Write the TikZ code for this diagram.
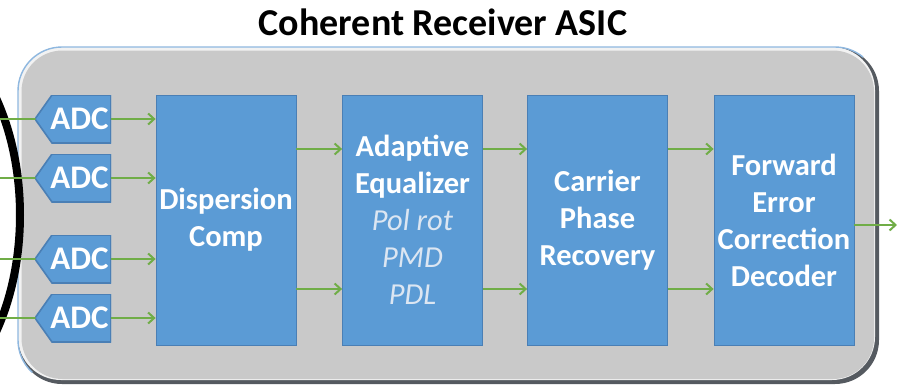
\documentclass[tikz,border=0pt]{standalone}
\usepackage{fontspec}
\setmainfont{Carlito}
\usetikzlibrary{arrows.meta}
\definecolor{boxblue}{HTML}{5B9BD5}
\definecolor{boxedge}{HTML}{4A7FB5}
\definecolor{arrgreen}{HTML}{70AD47}
\definecolor{panel}{HTML}{C9C9C9}
\definecolor{panedge}{HTML}{8FB8E0}
\definecolor{shadowgray}{HTML}{555A60}
\definecolor{highlight}{HTML}{F2F2F2}
\definecolor{italtxt}{HTML}{DCE6F2}
\newcommand\subtxt[1]{{\mdseries\itshape\color{italtxt}#1}}
\tikzset{
  stage/.style={rectangle,fill=boxblue,draw=boxedge,line width=0.8pt,minimum width=140pt,minimum height=250pt,inner sep=0pt,align=center,text=white,font=\fontsize{30.5}{37}\selectfont\bfseries},
  adcbox/.style={rectangle,minimum width=76pt,minimum height=48pt,inner sep=0pt,text=white,font=\fontsize{33}{33}\selectfont\bfseries,
    path picture={\fill[boxblue,draw=boxedge,line width=1.6pt]
      (path picture bounding box.north east) -- (path picture bounding box.south east)
      -- ([xshift=17pt]path picture bounding box.south west) -- (path picture bounding box.west)
      -- ([xshift=17pt]path picture bounding box.north west) -- cycle;}},
  flow/.style={draw=arrgreen,line width=2pt,-{Straight Barb[length=6pt,width=11pt,line width=2pt]}},
  feed/.style={draw=arrgreen,line width=2pt,line cap=round}
}
\begin{document}
\begin{tikzpicture}[x=1pt,y=-1pt]
\path[use as bounding box,fill=white] (0,0) rectangle (897,386);
\begin{scope}
\clip (0,0) rectangle (897,386);
% panel with bevel
\fill[shadowgray,rounded corners=44pt] (18,47) rectangle (879,384);
\fill[highlight,rounded corners=43pt] (18,47) rectangle (875,380);
\fill[panel,rounded corners=41pt] (21.5,50.5) rectangle (874,379);
\begin{scope}
\clip (0,0) -- (897,0) -- (860,62) -- (62,62) -- (62,360) -- (0,386) -- cycle;
\draw[panedge,line width=1.4pt,rounded corners=44pt] (18,47) rectangle (879,384);
\end{scope}
% black arc
\draw[black,line width=8pt] (-107,215) ellipse [x radius=127,y radius=200];
\end{scope}
\node[font=\fontsize{38}{38}\selectfont\bfseries] (title) at (443,22) {Coherent Receiver ASIC};
% ADCs
\node[adcbox] (adc1) at (73,119) {\hspace*{13pt}ADC};
\node[adcbox] (adc2) at (73,178) {\hspace*{13pt}ADC};
\node[adcbox] (adc3) at (73,259) {\hspace*{13pt}ADC};
\node[adcbox] (adc4) at (73,318) {\hspace*{13pt}ADC};
% stages
\node[stage] (disp) at (226,220) {Dispersion\\Comp};
\node[stage] (ae) at (412.5,220) {Adaptive\\Equalizer\\\subtxt{Pol rot}\\\subtxt{PMD}\\\subtxt{PDL}};
\node[stage] (cpr) at (597.5,220) {Carrier\\Phase\\Recovery};
\node[stage] (fec) at (784,220) {Forward\\Error\\Correction\\Decoder};
% inputs
\coordinate (in1) at (0,119);
\coordinate (in2) at (0,178);
\coordinate (in3) at (0,259);
\coordinate (in4) at (0,318);
\foreach \i in {1,2,3,4}{
  \draw[feed] (in\i) -- (adc\i.west);
  \draw[flow] (adc\i.east) -- (adc\i.east -| disp.west);
}
% between stages
\draw[flow] ([yshift=71pt]disp.east) -- ([yshift=71pt]ae.west);
\draw[flow] ([yshift=-69pt]disp.east) -- ([yshift=-69pt]ae.west);
\draw[flow] ([yshift=71pt]ae.east) -- ([yshift=71pt]cpr.west);
\draw[flow] ([yshift=-69pt]ae.east) -- ([yshift=-69pt]cpr.west);
\draw[flow] ([yshift=71pt]cpr.east) -- ([yshift=71pt]fec.west);
\draw[flow] ([yshift=-69pt]cpr.east) -- ([yshift=-69pt]fec.west);
% output
\coordinate (out) at (897,225);
\draw[flow] ([yshift=-5pt]fec.east) -- (out);
\end{tikzpicture}
\end{document}
